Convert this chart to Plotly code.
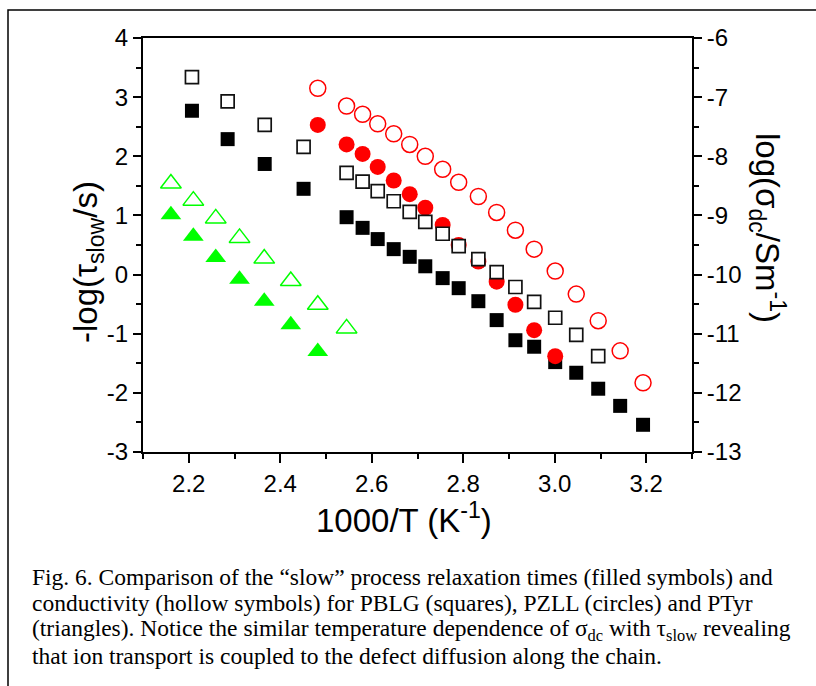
import plotly.graph_objects as go

# ---------------- data ----------------
x_pblg = [2.207, 2.285, 2.366, 2.451, 2.545, 2.580, 2.613, 2.648, 2.683, 2.717, 2.755,
          2.790, 2.833, 2.873, 2.914, 2.955, 3.001, 3.047, 3.095, 3.143, 3.193]
tau_pblg = [2.77, 2.29, 1.87, 1.45, 0.97, 0.79, 0.60, 0.43, 0.30, 0.14, -0.06,
            -0.23, -0.45, -0.77, -1.11, -1.22, -1.48, -1.66, -1.93, -2.22, -2.54]
sigma_pblg = [-6.66, -7.07, -7.47, -7.84, -8.28, -8.43, -8.59, -8.76, -8.94, -9.11,
              -9.31, -9.52, -9.74, -9.96, -10.21, -10.46, -10.73, -11.02, -11.38]

x_pzll = [2.482, 2.545, 2.580, 2.613, 2.648, 2.683, 2.717, 2.755, 2.790, 2.833,
          2.873, 2.914, 2.955, 3.001, 3.047, 3.095, 3.143, 3.193]
tau_pzll = [2.53, 2.20, 2.04, 1.82, 1.59, 1.36, 1.13, 0.84, 0.50, 0.22,
            -0.12, -0.51, -0.94, -1.38]
sigma_pzll = [-6.85, -7.15, -7.29, -7.45, -7.62, -7.80, -8.00, -8.22, -8.44, -8.68,
              -8.95, -9.25, -9.57, -9.94, -10.33, -10.78, -11.29, -11.83]

x_ptyr = [2.161, 2.210, 2.259, 2.311, 2.365, 2.423, 2.482, 2.545]
tau_ptyr = [1.01, 0.65, 0.29, -0.08, -0.45, -0.85, -1.30]
sigma_ptyr = [-8.46, -8.75, -9.05, -9.38, -9.73, -10.11, -10.51, -10.91]

x_ticks = [2.2, 2.4, 2.6, 2.8, 3.0, 3.2]
y_left_ticks = [4, 3, 2, 1, 0, -1, -2, -3]
y_right_ticks = [-6, -7, -8, -9, -10, -11, -12, -13]

caption_lines = [
    "Fig. 6. Comparison of the \u201cslow\u201d process relaxation times (filled symbols) and",
    "conductivity (hollow symbols) for PBLG (squares), PZLL (circles) and PTyr",
    "(triangles). Notice the similar temperature dependence of \u03c3<sub>dc</sub> with \u03c4<sub>slow</sub> revealing",
    "that ion transport is coupled to the defect diffusion along the chain.",
]

# ---------------- layout geometry ----------------
W, H = 816, 686
L, R, T, B = 143, 692, 38, 452


def px(xp):
    return (xp - L) / (R - L)


def py(yp):
    return (B - yp) / (B - T)


BLACK = "#000000"
RED = "#FF0000"
GREEN = "#00FF00"

fig = go.Figure()

# filled black squares (PBLG tau)
fig.add_trace(go.Scatter(x=x_pblg, y=tau_pblg, mode="markers",
                         marker=dict(symbol="square", size=14, color=BLACK, line=dict(width=0)),
                         yaxis="y", showlegend=False))
# filled red circles (PZLL tau)
fig.add_trace(go.Scatter(x=x_pzll[:len(tau_pzll)], y=tau_pzll, mode="markers",
                         marker=dict(symbol="circle", size=16, color=RED, line=dict(width=0)),
                         yaxis="y", showlegend=False))
# hollow squares (PBLG sigma) - white interior
fig.add_trace(go.Scatter(x=x_pblg[:len(sigma_pblg)], y=sigma_pblg, mode="markers",
                         marker=dict(symbol="square", size=13, color="white",
                                     line=dict(width=1.7, color="#111111")),
                         yaxis="y2", showlegend=False))
# hollow red circles (PZLL sigma)
fig.add_trace(go.Scatter(x=x_pzll, y=sigma_pzll, mode="markers",
                         marker=dict(symbol="circle-open", size=16, color=RED,
                                     line=dict(width=1.5, color=RED)),
                         yaxis="y2", showlegend=False))
# filled green triangles (PTyr tau)
fig.add_trace(go.Scatter(x=x_ptyr[:len(tau_ptyr)], y=tau_ptyr, mode="markers",
                         marker=dict(symbol="triangle-up", size=18, color=GREEN, line=dict(width=0)),
                         yaxis="y", showlegend=False))
# hollow green triangles (PTyr sigma)
fig.add_trace(go.Scatter(x=x_ptyr, y=sigma_ptyr, mode="markers",
                         marker=dict(symbol="triangle-up-open", size=18, color=GREEN,
                                     line=dict(width=1.5, color=GREEN)),
                         yaxis="y2", showlegend=False))

tickfont = dict(family="Arial, Liberation Sans, sans-serif", size=24, color=BLACK)

fig.update_layout(
    width=W, height=H,
    margin=dict(l=L, r=W - R, t=T, b=H - B, pad=0),
    paper_bgcolor="white", plot_bgcolor="white",
    xaxis=dict(range=[2.1, 3.3], tickvals=x_ticks, ticktext=[f"{v:.1f}" for v in x_ticks],
               ticks="outside", ticklen=9, tickwidth=1.6, tickcolor=BLACK,
               minor=dict(dtick=0.1, tick0=2.1, ticks="outside", ticklen=5, tickwidth=1.6, tickcolor=BLACK),
               showline=True, linewidth=2, linecolor=BLACK, mirror=True,
               showgrid=False, zeroline=False, tickfont=tickfont),
    yaxis=dict(range=[-3, 4], tickvals=y_left_ticks, ticktext=[str(v) for v in y_left_ticks],
               ticks="outside", ticklen=8, tickwidth=1.6, tickcolor=BLACK,
               minor=dict(dtick=0.5, tick0=0.5, ticks="outside", ticklen=5, tickwidth=1.6, tickcolor=BLACK),
               showline=True, linewidth=2, linecolor=BLACK,
               showgrid=False, zeroline=False, tickfont=tickfont),
    yaxis2=dict(range=[-13, -6], overlaying="y", side="right",
                tickvals=y_right_ticks, ticktext=[str(v) for v in y_right_ticks],
                ticks="outside", ticklen=8, tickwidth=1.6, tickcolor=BLACK,
                minor=dict(dtick=0.5, tick0=0.5, ticks="outside", ticklen=5, tickwidth=1.6, tickcolor=BLACK),
                showline=True, linewidth=2, linecolor=BLACK,
                showgrid=False, zeroline=False, tickfont=tickfont),
)

titlefont = dict(family="Arial, Liberation Sans, sans-serif", size=33, color=BLACK)

annotations = [
    dict(x=px(404), y=py(518), xref="paper", yref="paper", showarrow=False,
         text="1000/T (K<sup>-1</sup>)", font=titlefont, xanchor="center", yanchor="middle"),
    dict(x=px(88), y=py(262), xref="paper", yref="paper", showarrow=False,
         text="-log(\u03c4<sub>slow</sub>/s)", font=titlefont, textangle=-90,
         xanchor="center", yanchor="middle"),
    dict(x=px(768), y=py(228), xref="paper", yref="paper", showarrow=False,
         text="log(\u03c3<sub>dc</sub>/Sm<sup>-1</sup>)", font=titlefont, textangle=90,
         xanchor="center", yanchor="middle"),
]

capfont = dict(family="Times New Roman, Liberation Serif, serif", size=23.5, color=BLACK)
for i, line in enumerate(caption_lines):
    annotations.append(dict(x=px(30), y=py(577 + i * 26.3), xref="paper", yref="paper",
                            showarrow=False, text=line, font=capfont,
                            xanchor="left", yanchor="middle", align="left"))

fig.update_layout(annotations=annotations)

# outer frame
fig.add_shape(type="rect", xref="paper", yref="paper",
              x0=px(8), x1=px(840), y0=py(10), y1=py(720),
              line=dict(color=BLACK, width=1.5), fillcolor="rgba(0,0,0,0)", layer="above")

fig.write_html("out.html")
